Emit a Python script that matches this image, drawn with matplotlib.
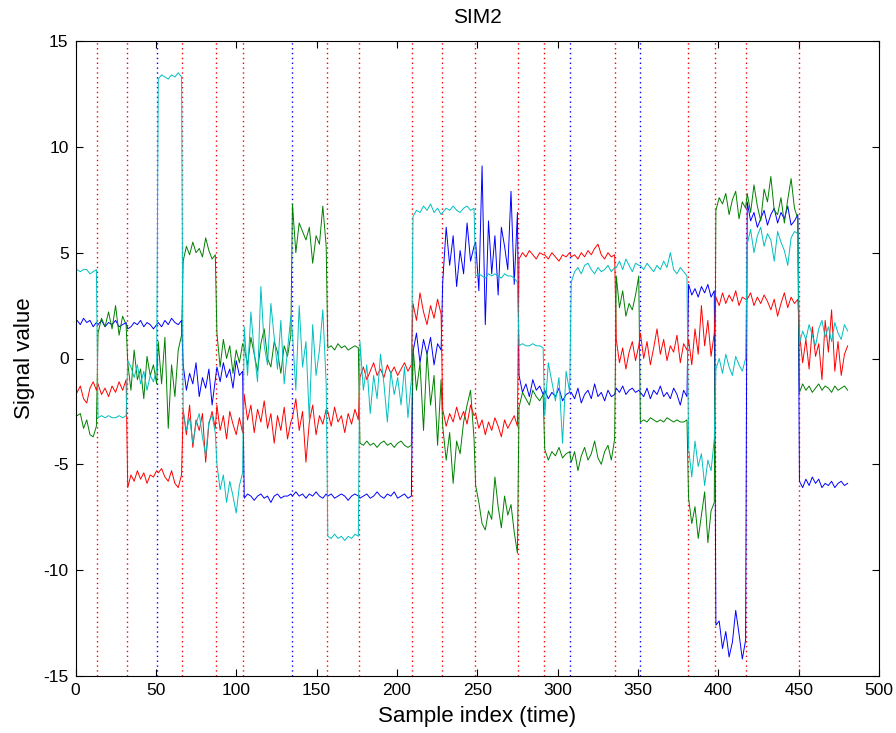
import numpy as np
import matplotlib
matplotlib.use("Agg")
import matplotlib.pyplot as plt

plt.rcParams['font.family'] = ['Liberation Sans', 'DejaVu Sans']
plt.rcParams['axes.unicode_minus'] = False

title = "SIM2"
xlabel = "Sample index (time)"
ylabel = "Signal value"

# segment edges (sample index); interior ones are the detected change points
edges = [1, 13.5, 32, 51, 66.5, 87.5, 104.5, 134.5, 156.5, 176.5, 209.5, 228,
         248.5, 275.5, 291.5, 308, 336, 351, 381, 398, 417.5, 450, 481]
cp_colors = ['r', 'r', 'b', 'r', 'r', 'r', 'b', 'r', 'r', 'r', 'r',
             'r', 'r', 'r', 'b', 'r', 'b', 'r', 'r', 'r', 'r']

blue_segs = [
    [1.8, 1.6, 1.9, 1.7, 1.8, 1.5, 1.7],
    [1.6, 1.8, 1.5, 1.7, 1.6, 1.8, 1.5, 1.6, 1.7],
    [1.4, 1.5, 1.7, 1.6, 1.8, 1.5, 1.7, 1.6, 1.4, 1.6],
    [1.7, 1.5, 1.8, 1.6, 1.9, 1.7, 1.6, 1.8],
    [-0.3, -1.5, -0.7, -1.2, -0.2, -1.8, -0.9, -1.4, -0.5, -2.2, -1.0],
    [-0.4, -1.1, -0.2, -0.9, -0.5, -1.4, -0.1, -0.8, -0.6],
    [-6.6, -6.4, -6.5, -6.7, -6.5, -6.4, -6.6, -6.5, -6.8, -6.5, -6.4, -6.6, -6.5, -6.5, -6.4],
    [-6.5, -6.3, -6.5, -6.4, -6.6, -6.4, -6.5, -6.3, -6.5, -6.6, -6.4],
    [-6.5, -6.4, -6.6, -6.5, -6.4, -6.5, -6.7, -6.5, -6.4, -6.5],
    [-6.6, -6.5, -6.4, -6.6, -6.5, -6.3, -6.5, -6.6, -6.4, -6.5, -6.3, -6.6, -6.5, -6.4, -6.6, -6.5],
    [0.3, 1.2, -0.2, 0.9, 0.2, 1.0, -0.3, 0.7, 0.4],
    [3.6, 6.2, 4.4, 5.8, 3.4, 5.1, 4.0, 6.4, 4.6, 5.3],
    [5.5, 3.2, 9.1, 1.6, 6.5, 4.0, 5.8, 3.0, 6.2, 5.3, 4.2, 7.9, 3.5, 6.9],
    [-0.8, -1.6, -1.2, -1.8, -1.0, -1.5, -1.3, -1.7],
    [-1.5, -1.9, -1.6, -1.8, -1.4, -2.0, -1.7, -1.6],
    [-1.6, -1.9, -1.4, -2.1, -1.7, -1.5, -1.9, -1.2, -1.8, -1.6, -2.0, -1.5, -1.8, -1.7],
    [-1.4, -1.6, -1.3, -1.7, -1.5, -1.4, -1.6, -1.5],
    [-1.6, -1.8, -1.4, -1.9, -1.5, -1.7, -1.3, -1.8, -1.6, -1.9, -1.4, -1.7, -2.2, -1.5, -1.8],
    [3.5, 3.0, 3.3, 2.9, 3.4, 3.1, 3.5, 2.9, 3.2],
    [-12.6, -12.4, -13.7, -12.9, -14.1, -13.4, -11.9, -13.0, -14.2, -13.3],
    [7.4, 6.5, 6.9, 6.2, 6.6, 7.0, 6.3, 6.8, 7.1, 6.4, 6.9, 6.6, 7.2, 6.3, 6.5, 6.8],
    [-5.8, -6.1, -5.7, -6.0, -5.6, -5.9, -5.7, -6.1, -5.9, -6.0, -5.8, -6.1, -5.9, -5.8, -6.0, -5.9],
]

green_segs = [
    [-2.7, -2.6, -3.3, -2.9, -3.6, -3.7, -3.2],
    [1.2, 1.9, 1.5, 2.2, 1.4, 2.5, 1.1, 2.0, 1.6],
    [-0.2, -1.5, 0.4, -1.0, -0.5, -1.9, 0.1, -0.8, -0.3, -1.2],
    [0.8, -1.2, 1.0, -3.3, -0.3, -1.8, 0.4, 1.1],
    [4.6, 5.3, 4.9, 5.5, 5.0, 5.2, 4.8, 5.7, 5.1, 4.7, 4.9],
    [1.2, -0.4, 0.9, 0.0, 0.6, -0.7, 0.4, -0.2, 0.7],
    [0.5, -0.3, 1.0, 0.2, -0.6, 0.7, 1.4, 0.0, -0.4, 0.8, 0.3, -0.7, 0.6, 0.1, 1.1],
    [7.3, 5.0, 6.4, 6.0, 5.6, 6.2, 4.5, 5.8, 5.4, 7.2, 5.3],
    [0.5, 0.6, 0.4, 0.7, 0.5, 0.6, 0.4, 0.5, 0.6, 0.5],
    [-4.0, -4.1, -3.9, -4.1, -4.0, -4.2, -4.0, -3.9, -4.1, -4.0, -4.2, -4.0, -3.9, -4.1, -4.2, -4.1],
    [0.6, -1.5, -0.2, -3.4, 0.3, -2.2, -0.8, -4.1, -1.0],
    [-3.2, -4.8, -3.5, -5.9, -3.9, -4.5, -3.0, -2.2, -1.5, -3.8],
    [-6.0, -6.8, -7.8, -8.1, -7.2, -7.6, -5.6, -7.0, -8.0, -6.5, -7.4, -6.9, -8.2, -9.2],
    [-2.3, -1.6, -1.9, -2.2, -1.5, -1.8, -2.0, -1.7],
    [-4.3, -4.8, -4.4, -4.6, -4.2, -4.7, -4.5, -4.4],
    [-4.9, -4.4, -5.3, -4.6, -4.2, -4.8, -4.5, -3.9, -4.7, -5.0, -4.4, -4.1, -4.8, -3.8],
    [3.9, 2.4, 3.2, 2.0, 2.6, 2.3, 3.0, 3.9],
    [-3.0, -2.9, -3.0, -2.8, -2.9, -3.0, -2.9, -3.0, -2.8, -2.9, -3.0, -2.9, -3.0, -3.0, -2.9],
    [-6.6, -7.8, -7.0, -8.5, -7.4, -6.3, -8.7, -7.2, -6.8],
    [7.0, 7.6, 7.3, 7.8, 6.8, 7.5, 7.9, 6.6, 7.4, 7.1],
    [7.8, 6.9, 8.2, 7.2, 6.5, 8.0, 7.4, 8.6, 7.0, 6.8, 7.6, 6.4, 7.5, 8.5, 7.1, 6.6],
    [-1.6, -1.2, -1.5, -1.3, -1.6, -1.4, -1.2, -1.5, -1.3, -1.4, -1.6, -1.3, -1.5, -1.4, -1.3, -1.5],
]

red_segs = [
    [-1.6, -1.3, -1.9, -2.1, -1.4, -1.1, -1.5],
    [-1.2, -1.7, -1.4, -1.8, -1.3, -1.6, -1.1, -1.5, -1.0],
    [-6.1, -5.5, -5.8, -5.3, -5.7, -5.4, -5.9, -5.5, -5.6, -5.3],
    [-5.4, -5.2, -5.6, -5.8, -5.3, -5.9, -6.1, -5.5],
    [-2.4, -3.6, -2.2, -4.2, -2.9, -3.4, -2.6, -4.9, -3.1, -2.5, -3.3],
    [-2.2, -3.4, -2.7, -3.8, -2.5, -3.1, -3.6, -2.8, -3.5],
    [-1.7, -2.9, -2.2, -3.5, -2.4, -3.0, -2.0, -3.3, -2.6, -4.0, -2.7, -3.4, -2.3, -3.8, -3.0],
    [-2.8, -1.9, -3.4, -2.5, -4.9, -3.0, -2.2, -3.6, -2.7, -3.1, -2.4],
    [-2.5, -3.2, -2.3, -3.0, -2.7, -3.5, -2.6, -3.1, -2.4, -2.9],
    [-0.9, -0.4, -1.0, -0.6, -0.2, -0.8, -0.5, -0.9, -0.3, -0.7, -0.4, -0.8, -0.5, -0.2, -0.6, -0.3],
    [2.6, 1.8, 3.1, 2.2, 1.6, 2.5, 1.9, 2.8, 2.1],
    [-2.4, -3.2, -2.6, -3.0, -2.3, -2.9, -2.5, -3.1, -2.2, -2.7],
    [-2.6, -3.3, -2.9, -3.6, -3.0, -3.4, -2.8, -3.2, -3.7, -2.9, -3.3, -3.0, -2.7, -3.2],
    [4.7, 5.0, 4.8, 5.1, 4.9, 4.7, 5.0, 4.9],
    [4.9, 4.7, 5.0, 4.8, 4.6, 4.9, 4.8, 5.0],
    [4.8, 4.9, 4.7, 5.0, 4.8, 5.1, 4.9, 5.2, 5.4, 4.9, 4.7, 5.0, 4.8, 4.9],
    [0.9, -0.2, 0.5, -0.5, 0.3, 0.8, -0.1, 0.6],
    [1.2, 0.0, 0.8, -0.3, 0.5, 1.4, 0.2, 0.9, -0.1, 0.6, 0.3, 1.1, -0.2, 0.7, 0.4],
    [0.9, -0.3, 1.4, 0.2, 2.5, 0.6, 1.8, 0.1, 1.2],
    [2.9, 2.5, 3.1, 2.6, 3.0, 2.7, 3.2, 2.5, 2.9, 2.8],
    [2.8, 3.1, 2.5, 2.9, 2.6, 3.0, 2.7, 2.3, 2.8, 2.0, 2.6, 3.1, 2.4, 2.9, 2.6, 2.8],
    [1.2, -0.2, 0.9, -0.5, 1.5, 0.1, 0.7, -1.0, 1.8, 0.3, 2.3, -0.6, 0.8, -0.8, 0.2, 0.6],
]

cyan_segs = [
    [4.2, 4.1, 4.2, 4.2, 4.0, 4.1, 4.2],
    [-2.8, -2.7, -2.8, -2.7, -2.8, -2.8, -2.7, -2.8, -2.7],
    [-0.1, -0.4, -0.9, -0.3, -1.2, -0.6, -1.5, -0.8, -1.1, -0.5],
    [13.2, 13.4, 13.3, 13.2, 13.4, 13.3, 13.5, 13.3],
    [-2.5, -3.4, -2.8, -4.0, -3.1, -2.6, -3.7, -4.6, -3.0, -2.7, -3.5],
    [-5.0, -6.2, -5.5, -6.8, -5.8, -6.5, -7.3, -6.0, -5.4],
    [1.5, -0.8, 2.2, 0.3, -1.1, 3.4, 0.6, -0.3, 2.6, 1.0, -0.5, 1.8, -1.2, 0.4, 2.0],
    [1.2, -1.5, 2.5, -0.4, 0.8, -2.9, 1.6, -0.8, 0.4, 2.3, -1.2],
    [-8.4, -8.5, -8.3, -8.5, -8.4, -8.6, -8.4, -8.5, -8.3, -8.4],
    [0.8, -1.5, -0.3, -2.6, -0.8, -1.9, 0.2, -1.2, -3.0, -0.6, -1.7, -0.9, -2.2, -0.4, -2.8, -1.0],
    [6.7, 7.0, 6.9, 7.2, 7.0, 7.3, 6.9, 7.1, 6.8],
    [6.9, 7.1, 7.0, 7.2, 7.0, 6.9, 7.1, 7.2, 7.0, 7.1],
    [3.9, 4.0, 3.9, 3.8, 4.0, 3.9, 4.0, 3.9, 3.8, 4.0, 3.9, 3.9, 3.8, 3.6],
    [0.6, 0.7, 0.6, 0.6, 0.7, 0.6, 0.6, 0.5],
    [-2.7, -0.2, -1.1, -2.0, -0.9, -4.0, -0.6, -1.6],
    [3.6, 4.1, 4.3, 4.0, 4.4, 4.5, 4.2, 4.0, 4.3, 4.1, 4.2, 4.4, 4.1, 4.3],
    [4.3, 4.6, 4.2, 4.7, 4.4, 4.1, 4.5, 4.4],
    [4.4, 4.2, 4.5, 4.3, 4.1, 4.4, 4.2, 4.6, 4.3, 5.0, 4.2, 4.0, 4.3, 4.1, 3.9],
    [-4.2, -5.6, -3.9, -5.1, -4.5, -6.0, -4.8, -5.3, -3.8],
    [-0.5, 0.0, -0.7, 0.2, -0.4, -0.8, 0.1, -0.3, -0.6, 0.0],
    [5.4, 6.1, 5.0, 5.8, 6.2, 5.3, 5.9, 5.6, 4.6, 6.0, 5.5, 5.1, 4.4, 5.7, 6.0, 5.9],
    [0.7, 1.3, 0.9, 1.6, 1.1, 0.6, 1.4, 1.8, 1.0, 1.5, 0.8, 1.7, 1.2, 0.9, 1.6, 1.3],
]

series = [(blue_segs, (0, 0, 1)), (green_segs, (0, 0.5, 0)),
          (red_segs, (1, 0, 0)), (cyan_segs, (0, 0.75, 0.75))]


def build(segs):
    xs, ys = [], []
    for k, vals in enumerate(segs):
        lo, hi = edges[k], edges[k + 1]
        a = lo + (0.5 if k > 0 else 0.0)
        b = hi - 0.5
        xs.extend(np.linspace(a, b, len(vals)))
        ys.extend(vals)
    return np.array(xs), np.array(ys)


fig = plt.figure(figsize=(8.96, 7.33), dpi=100)
ax = fig.add_axes([75.5 / 896, 57 / 733, 803.5 / 896, 635 / 733])

for cp, c in zip(edges[1:-1], cp_colors):
    ax.plot([cp, cp], [-15, 15], linestyle=(0, (1, 2.5)), color=c, linewidth=1.0)

for segs, col in series:
    x, y = build(segs)
    ax.plot(x, y, color=col, linewidth=0.7)

ax.set_xlim(0, 500)
ax.set_ylim(-15, 15)
ax.set_xticks(np.arange(0, 501, 50))
ax.set_yticks(np.arange(-15, 16, 5))
ax.tick_params(direction='in', top=True, right=True, labelsize=12.5, length=5, pad=5)
for s in ax.spines.values():
    s.set_linewidth(0.8)
ax.set_title(title, fontsize=15, pad=13)
ax.set_xlabel(xlabel, fontsize=16, labelpad=6)
ax.set_ylabel(ylabel, fontsize=16, labelpad=6)

fig.savefig("out.png", dpi=100)
